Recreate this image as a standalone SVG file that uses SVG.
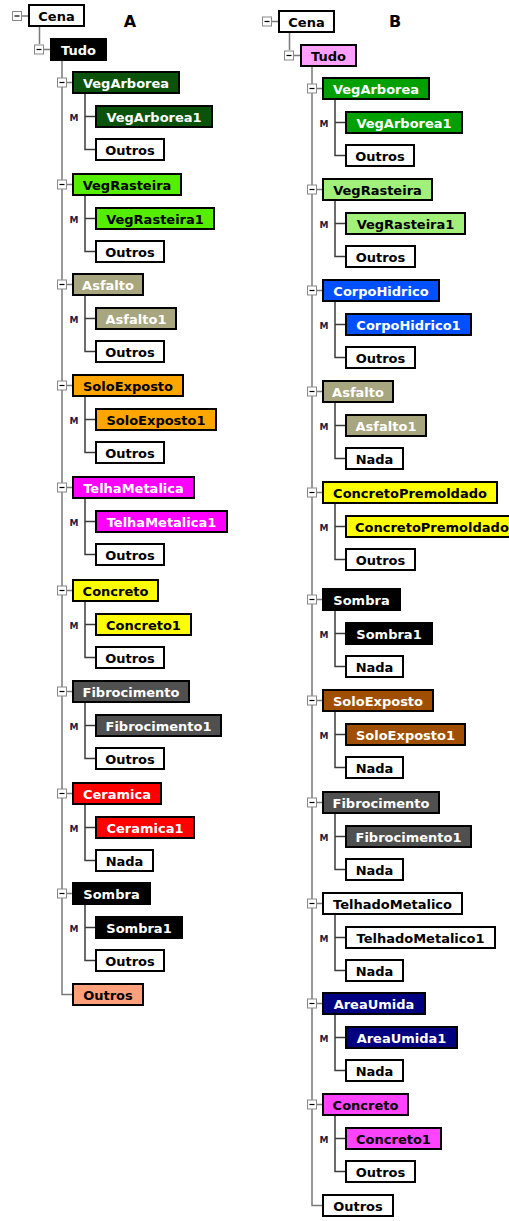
<svg xmlns="http://www.w3.org/2000/svg" width="509" height="1221" viewBox="0 0 509 1221">
<style>
.bx{stroke:#000;stroke-width:2}
.t{font-family:"DejaVu Sans",Verdana,sans-serif;font-weight:bold;font-size:13px;text-anchor:middle}
.w{fill:#fff}.k{fill:#000}
.mn{fill:#fff;stroke:#888;stroke-width:1}
.mnl{stroke:#000;stroke-width:1.2}
.tr{stroke:#7a7a7a;stroke-width:1.5;fill:none}
.sb{stroke:#3c3c3c;stroke-width:1.5;fill:none}
.m{font-family:"DejaVu Sans",Verdana,sans-serif;font-weight:bold;font-size:9px;fill:#1e2040;text-anchor:middle}
.hd{font-family:"DejaVu Sans",Verdana,sans-serif;font-weight:bold;font-size:16px;fill:#000;text-anchor:middle}
</style>
<rect width="509" height="1221" fill="#fff"/>
<text class="hd" x="130" y="27">A</text>
<text class="hd" x="395" y="27">B</text>

<g id="connectors">
<!-- Tree A -->
<path class="tr" d="M22 16H28M39.5 27V44M44 49.5H50M62 61V994.5H72"/>
<path class="tr" d="M67 82.5H72M67 184.5H72M67 284.5H72M67 385.5H72M67 487.5H72M67 590.5H72M67 691.5H72M67 793.5H72M67 893.5H72"/>
<path class="sb" d="M85 94V149.5H95M85 116.5H95"/>
<path class="sb" d="M85 196V251.5H95M85 218.5H95"/>
<path class="sb" d="M85 296V351.5H95M85 318.5H95"/>
<path class="sb" d="M85 397V452.5H95M85 419.5H95"/>
<path class="sb" d="M85 499V554.5H95M85 521.5H95"/>
<path class="sb" d="M85 602V657.5H95M85 624.5H95"/>
<path class="sb" d="M85 703V758.5H95M85 725.5H95"/>
<path class="sb" d="M85 805V860.5H95M85 827.5H95"/>
<path class="sb" d="M85 905V960.5H95M85 927.5H95"/>
<!-- Tree B -->
<path class="tr" d="M272 21.5H278M289.5 33V50M294 55.5H300M312 67V1205.5H322"/>
<path class="tr" d="M317 88.5H322M317 189.5H322M317 290.5H322M317 391.5H322M317 492.5H322M317 599.5H322M317 700.5H322M317 802.5H322M317 903.5H322M317 1003.5H322M317 1104.5H322"/>
<path class="sb" d="M335 100V155.5H345M335 122.5H345"/>
<path class="sb" d="M335 201V256.5H345M335 223.5H345"/>
<path class="sb" d="M335 302V357.5H345M335 324.5H345"/>
<path class="sb" d="M335 403V458.5H345M335 425.5H345"/>
<path class="sb" d="M335 504V559.5H345M335 526.5H345"/>
<path class="sb" d="M335 611V666.5H345M335 633.5H345"/>
<path class="sb" d="M335 712V767.5H345M335 734.5H345"/>
<path class="sb" d="M335 814V869.5H345M335 836.5H345"/>
<path class="sb" d="M335 915V970.5H345M335 937.5H345"/>
<path class="sb" d="M335 1015V1070.5H345M335 1037.5H345"/>
<path class="sb" d="M335 1116V1171.5H345M335 1138.5H345"/>
</g>

<g id="minus-buttons">
<g><rect class="mn" x="12.5" y="11.5" width="9" height="9"/><path class="mnl" d="M14.5 16H19.5"/></g>
<g><rect class="mn" x="34.5" y="45" width="9" height="9"/><path class="mnl" d="M36.5 49.5H41.5"/></g>
<g><rect class="mn" x="57.5" y="78" width="9" height="9"/><path class="mnl" d="M59.5 82.5H64.5"/></g>
<g><rect class="mn" x="57.5" y="180" width="9" height="9"/><path class="mnl" d="M59.5 184.5H64.5"/></g>
<g><rect class="mn" x="57.5" y="280" width="9" height="9"/><path class="mnl" d="M59.5 284.5H64.5"/></g>
<g><rect class="mn" x="57.5" y="381" width="9" height="9"/><path class="mnl" d="M59.5 385.5H64.5"/></g>
<g><rect class="mn" x="57.5" y="483" width="9" height="9"/><path class="mnl" d="M59.5 487.5H64.5"/></g>
<g><rect class="mn" x="57.5" y="586" width="9" height="9"/><path class="mnl" d="M59.5 590.5H64.5"/></g>
<g><rect class="mn" x="57.5" y="687" width="9" height="9"/><path class="mnl" d="M59.5 691.5H64.5"/></g>
<g><rect class="mn" x="57.5" y="789" width="9" height="9"/><path class="mnl" d="M59.5 793.5H64.5"/></g>
<g><rect class="mn" x="57.5" y="889" width="9" height="9"/><path class="mnl" d="M59.5 893.5H64.5"/></g>
<g><rect class="mn" x="262.5" y="17" width="9" height="9"/><path class="mnl" d="M264.5 21.5H269.5"/></g>
<g><rect class="mn" x="284.5" y="51" width="9" height="9"/><path class="mnl" d="M286.5 55.5H291.5"/></g>
<g><rect class="mn" x="307.5" y="84" width="9" height="9"/><path class="mnl" d="M309.5 88.5H314.5"/></g>
<g><rect class="mn" x="307.5" y="185" width="9" height="9"/><path class="mnl" d="M309.5 189.5H314.5"/></g>
<g><rect class="mn" x="307.5" y="286" width="9" height="9"/><path class="mnl" d="M309.5 290.5H314.5"/></g>
<g><rect class="mn" x="307.5" y="387" width="9" height="9"/><path class="mnl" d="M309.5 391.5H314.5"/></g>
<g><rect class="mn" x="307.5" y="488" width="9" height="9"/><path class="mnl" d="M309.5 492.5H314.5"/></g>
<g><rect class="mn" x="307.5" y="595" width="9" height="9"/><path class="mnl" d="M309.5 599.5H314.5"/></g>
<g><rect class="mn" x="307.5" y="696" width="9" height="9"/><path class="mnl" d="M309.5 700.5H314.5"/></g>
<g><rect class="mn" x="307.5" y="798" width="9" height="9"/><path class="mnl" d="M309.5 802.5H314.5"/></g>
<g><rect class="mn" x="307.5" y="899" width="9" height="9"/><path class="mnl" d="M309.5 903.5H314.5"/></g>
<g><rect class="mn" x="307.5" y="999" width="9" height="9"/><path class="mnl" d="M309.5 1003.5H314.5"/></g>
<g><rect class="mn" x="307.5" y="1100" width="9" height="9"/><path class="mnl" d="M309.5 1104.5H314.5"/></g>
</g>

<g id="m-labels">
<text class="m" x="74" y="120.5">M</text>
<text class="m" x="74" y="222.5">M</text>
<text class="m" x="74" y="322.5">M</text>
<text class="m" x="74" y="423.5">M</text>
<text class="m" x="74" y="525.5">M</text>
<text class="m" x="74" y="628.5">M</text>
<text class="m" x="74" y="729.5">M</text>
<text class="m" x="74" y="831.5">M</text>
<text class="m" x="74" y="931.5">M</text>
<text class="m" x="324" y="126.5">M</text>
<text class="m" x="324" y="227.5">M</text>
<text class="m" x="324" y="328.5">M</text>
<text class="m" x="324" y="429.5">M</text>
<text class="m" x="324" y="530.5">M</text>
<text class="m" x="324" y="637.5">M</text>
<text class="m" x="324" y="738.5">M</text>
<text class="m" x="324" y="840.5">M</text>
<text class="m" x="324" y="941.5">M</text>
<text class="m" x="324" y="1041.5">M</text>
<text class="m" x="324" y="1142.5">M</text>
</g>

<!-- Tree A nodes -->
<g id="A-Cena"><rect class="bx" x="29" y="5" width="55" height="21" fill="#fff"/><text class="t k" x="56.5" y="21">Cena</text></g>
<g id="A-Tudo"><rect class="bx" x="51" y="39" width="55" height="21" fill="#000"/><text class="t w" x="78.5" y="55">Tudo</text></g>

<g id="A-VegArborea"><rect class="bx" x="73" y="72" width="106" height="21" fill="#0b520b"/><text class="t w" x="126" y="88">VegArborea</text></g>
<g id="A-VegArborea1"><rect class="bx" x="96" y="106" width="116" height="21" fill="#0b520b"/><text class="t w" x="154" y="122">VegArborea1</text></g>
<g id="A-VegArborea-Outros"><rect class="bx" x="96" y="139" width="68" height="21" fill="#fff"/><text class="t k" x="130" y="155">Outros</text></g>

<g id="A-VegRasteira"><rect class="bx" x="73" y="174" width="108" height="21" fill="#55ee00"/><text class="t k" x="127" y="190">VegRasteira</text></g>
<g id="A-VegRasteira1"><rect class="bx" x="96" y="208" width="118" height="21" fill="#55ee00"/><text class="t k" x="155" y="224">VegRasteira1</text></g>
<g id="A-VegRasteira-Outros"><rect class="bx" x="96" y="241" width="68" height="21" fill="#fff"/><text class="t k" x="130" y="257">Outros</text></g>

<g id="A-Asfalto"><rect class="bx" x="73" y="274" width="70" height="21" fill="#a8a67e"/><text class="t w" x="108" y="290">Asfalto</text></g>
<g id="A-Asfalto1"><rect class="bx" x="96" y="308" width="80" height="21" fill="#a8a67e"/><text class="t w" x="136" y="324">Asfalto1</text></g>
<g id="A-Asfalto-Outros"><rect class="bx" x="96" y="341" width="68" height="21" fill="#fff"/><text class="t k" x="130" y="357">Outros</text></g>

<g id="A-SoloExposto"><rect class="bx" x="73" y="375" width="110" height="21" fill="#ffa500"/><text class="t k" x="128" y="391">SoloExposto</text></g>
<g id="A-SoloExposto1"><rect class="bx" x="96" y="409" width="120" height="21" fill="#ffa500"/><text class="t k" x="156" y="425">SoloExposto1</text></g>
<g id="A-SoloExposto-Outros"><rect class="bx" x="96" y="442" width="68" height="21" fill="#fff"/><text class="t k" x="130" y="458">Outros</text></g>

<g id="A-TelhaMetalica"><rect class="bx" x="73" y="477" width="121" height="21" fill="#ff00ff"/><text class="t w" x="133.5" y="493">TelhaMetalica</text></g>
<g id="A-TelhaMetalica1"><rect class="bx" x="96" y="511" width="131" height="21" fill="#ff00ff"/><text class="t w" x="161.5" y="527">TelhaMetalica1</text></g>
<g id="A-TelhaMetalica-Outros"><rect class="bx" x="96" y="544" width="68" height="21" fill="#fff"/><text class="t k" x="130" y="560">Outros</text></g>

<g id="A-Concreto"><rect class="bx" x="73" y="580" width="85" height="21" fill="#ffff00"/><text class="t k" x="115.5" y="596">Concreto</text></g>
<g id="A-Concreto1"><rect class="bx" x="96" y="614" width="95" height="21" fill="#ffff00"/><text class="t k" x="143.5" y="630">Concreto1</text></g>
<g id="A-Concreto-Outros"><rect class="bx" x="96" y="647" width="68" height="21" fill="#fff"/><text class="t k" x="130" y="663">Outros</text></g>

<g id="A-Fibrocimento"><rect class="bx" x="73" y="681" width="116" height="21" fill="#505050"/><text class="t w" x="131" y="697">Fibrocimento</text></g>
<g id="A-Fibrocimento1"><rect class="bx" x="96" y="715" width="125" height="21" fill="#505050"/><text class="t w" x="158.5" y="731">Fibrocimento1</text></g>
<g id="A-Fibrocimento-Outros"><rect class="bx" x="96" y="748" width="68" height="21" fill="#fff"/><text class="t k" x="130" y="764">Outros</text></g>

<g id="A-Ceramica"><rect class="bx" x="73" y="783" width="88" height="21" fill="#ff0000"/><text class="t w" x="117" y="799">Ceramica</text></g>
<g id="A-Ceramica1"><rect class="bx" x="96" y="817" width="98" height="21" fill="#ff0000"/><text class="t w" x="145" y="833">Ceramica1</text></g>
<g id="A-Ceramica-Nada"><rect class="bx" x="96" y="850" width="57" height="21" fill="#fff"/><text class="t k" x="124.5" y="866">Nada</text></g>

<g id="A-Sombra"><rect class="bx" x="73" y="883" width="77" height="21" fill="#000"/><text class="t w" x="111.5" y="899">Sombra</text></g>
<g id="A-Sombra1"><rect class="bx" x="96" y="917" width="86" height="21" fill="#000"/><text class="t w" x="139" y="933">Sombra1</text></g>
<g id="A-Sombra-Outros"><rect class="bx" x="96" y="950" width="68" height="21" fill="#fff"/><text class="t k" x="130" y="966">Outros</text></g>

<g id="A-Outros"><rect class="bx" x="73" y="984" width="70" height="21" fill="#ffa07a"/><text class="t k" x="108" y="1000">Outros</text></g>

<!-- Tree B nodes -->
<g id="B-Cena"><rect class="bx" x="279" y="11" width="55" height="21" fill="#fff"/><text class="t k" x="306.5" y="27">Cena</text></g>
<g id="B-Tudo"><rect class="bx" x="301" y="45" width="55" height="21" fill="#ffa0ff"/><text class="t k" x="328.5" y="61">Tudo</text></g>

<g id="B-VegArborea"><rect class="bx" x="323" y="78" width="106" height="21" fill="#00a000"/><text class="t w" x="376" y="94">VegArborea</text></g>
<g id="B-VegArborea1"><rect class="bx" x="346" y="112" width="116" height="21" fill="#00a000"/><text class="t w" x="404" y="128">VegArborea1</text></g>
<g id="B-VegArborea-Outros"><rect class="bx" x="346" y="145" width="68" height="21" fill="#fff"/><text class="t k" x="380" y="161">Outros</text></g>

<g id="B-VegRasteira"><rect class="bx" x="323" y="179" width="109" height="21" fill="#a0f07a"/><text class="t k" x="377.5" y="195">VegRasteira</text></g>
<g id="B-VegRasteira1"><rect class="bx" x="346" y="213" width="119" height="21" fill="#a0f07a"/><text class="t k" x="405.5" y="229">VegRasteira1</text></g>
<g id="B-VegRasteira-Outros"><rect class="bx" x="346" y="246" width="69" height="21" fill="#fff"/><text class="t k" x="380.5" y="262">Outros</text></g>

<g id="B-CorpoHidrico"><rect class="bx" x="323" y="280" width="116" height="21" fill="#0050ff"/><text class="t w" x="381" y="296">CorpoHidrico</text></g>
<g id="B-CorpoHidrico1"><rect class="bx" x="346" y="314" width="125" height="21" fill="#0050ff"/><text class="t w" x="408.5" y="330">CorpoHidrico1</text></g>
<g id="B-CorpoHidrico-Outros"><rect class="bx" x="346" y="347" width="69" height="21" fill="#fff"/><text class="t k" x="380.5" y="363">Outros</text></g>

<g id="B-Asfalto"><rect class="bx" x="323" y="381" width="70" height="21" fill="#a8a67e"/><text class="t w" x="358" y="397">Asfalto</text></g>
<g id="B-Asfalto1"><rect class="bx" x="346" y="415" width="80" height="21" fill="#a8a67e"/><text class="t w" x="386" y="431">Asfalto1</text></g>
<g id="B-Asfalto-Nada"><rect class="bx" x="346" y="448" width="57" height="21" fill="#fff"/><text class="t k" x="374.5" y="464">Nada</text></g>

<g id="B-ConcretoPremoldado"><rect class="bx" x="323" y="482" width="174" height="21" fill="#ffff00"/><text class="t k" x="410" y="498">ConcretoPremoldado</text></g>
<g id="B-ConcretoPremoldado1"><rect class="bx" x="346" y="516" width="184" height="21" fill="#ffff00"/><text class="t k" x="355" y="532" style="text-anchor:start">ConcretoPremoldado1</text></g>
<g id="B-ConcretoPremoldado-Outros"><rect class="bx" x="346" y="549" width="69" height="21" fill="#fff"/><text class="t k" x="380.5" y="565">Outros</text></g>

<g id="B-Sombra"><rect class="bx" x="323" y="589" width="77" height="21" fill="#000"/><text class="t w" x="361.5" y="605">Sombra</text></g>
<g id="B-Sombra1"><rect class="bx" x="346" y="623" width="86" height="21" fill="#000"/><text class="t w" x="389" y="639">Sombra1</text></g>
<g id="B-Sombra-Nada"><rect class="bx" x="346" y="656" width="57" height="21" fill="#fff"/><text class="t k" x="374.5" y="672">Nada</text></g>

<g id="B-SoloExposto"><rect class="bx" x="323" y="690" width="110" height="21" fill="#a04f00"/><text class="t w" x="378" y="706">SoloExposto</text></g>
<g id="B-SoloExposto1"><rect class="bx" x="346" y="724" width="119" height="21" fill="#a04f00"/><text class="t w" x="405.5" y="740">SoloExposto1</text></g>
<g id="B-SoloExposto-Nada"><rect class="bx" x="346" y="757" width="57" height="21" fill="#fff"/><text class="t k" x="374.5" y="773">Nada</text></g>

<g id="B-Fibrocimento"><rect class="bx" x="323" y="792" width="116" height="21" fill="#505050"/><text class="t w" x="381" y="808">Fibrocimento</text></g>
<g id="B-Fibrocimento1"><rect class="bx" x="346" y="826" width="125" height="21" fill="#505050"/><text class="t w" x="408.5" y="842">Fibrocimento1</text></g>
<g id="B-Fibrocimento-Nada"><rect class="bx" x="346" y="859" width="57" height="21" fill="#fff"/><text class="t k" x="374.5" y="875">Nada</text></g>

<g id="B-TelhadoMetalico"><rect class="bx" x="323" y="893" width="139" height="21" fill="#fff"/><text class="t k" x="392.5" y="909">TelhadoMetalico</text></g>
<g id="B-TelhadoMetalico1"><rect class="bx" x="346" y="927" width="149" height="21" fill="#fff"/><text class="t k" x="420.5" y="943">TelhadoMetalico1</text></g>
<g id="B-TelhadoMetalico-Nada"><rect class="bx" x="346" y="960" width="57" height="21" fill="#fff"/><text class="t k" x="374.5" y="976">Nada</text></g>

<g id="B-AreaUmida"><rect class="bx" x="323" y="993" width="102" height="21" fill="#000080"/><text class="t w" x="374" y="1009">AreaUmida</text></g>
<g id="B-AreaUmida1"><rect class="bx" x="346" y="1027" width="111" height="21" fill="#000080"/><text class="t w" x="401.5" y="1043">AreaUmida1</text></g>
<g id="B-AreaUmida-Nada"><rect class="bx" x="346" y="1060" width="57" height="21" fill="#fff"/><text class="t k" x="374.5" y="1076">Nada</text></g>

<g id="B-Concreto"><rect class="bx" x="323" y="1094" width="85" height="21" fill="#ff44ff"/><text class="t k" x="365.5" y="1110">Concreto</text></g>
<g id="B-Concreto1"><rect class="bx" x="346" y="1128" width="95" height="21" fill="#ff44ff"/><text class="t k" x="393.5" y="1144">Concreto1</text></g>
<g id="B-Concreto-Outros"><rect class="bx" x="346" y="1161" width="69" height="21" fill="#fff"/><text class="t k" x="380.5" y="1177">Outros</text></g>

<g id="B-Outros"><rect class="bx" x="323" y="1195" width="70" height="21" fill="#fff"/><text class="t k" x="358" y="1211">Outros</text></g>
</svg>
